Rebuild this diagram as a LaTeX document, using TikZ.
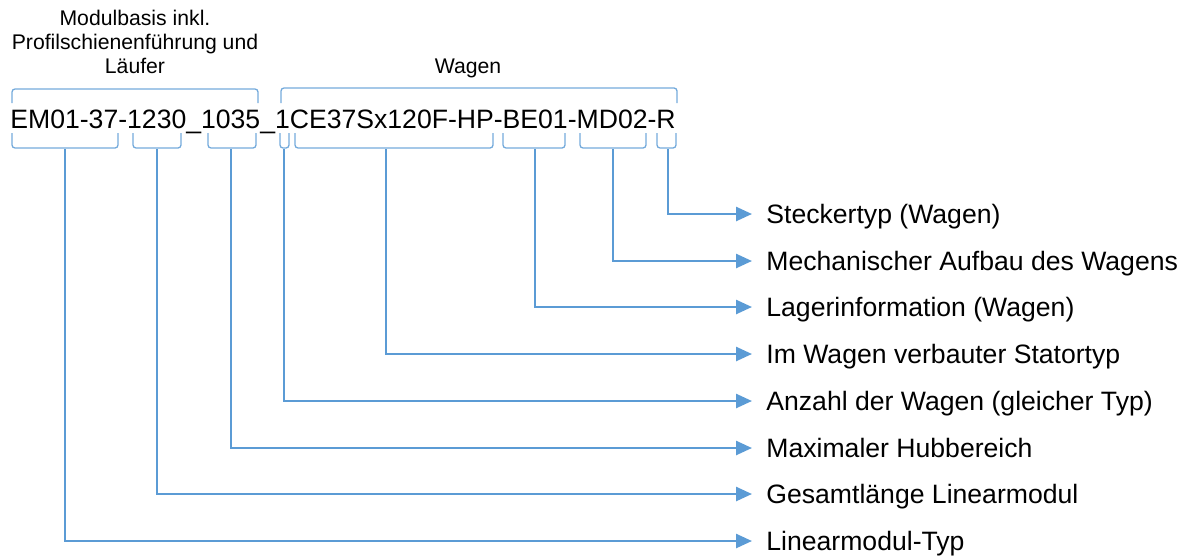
\documentclass[tikz,border=0pt]{standalone}
\usepackage{fontspec}
\setmainfont{Liberation Sans}
\usepackage{xcolor}
\usetikzlibrary{arrows.meta}
\definecolor{officeblue}{HTML}{5B9BD5}
\tikzstyle{label} = [anchor=west, inner xsep=7pt, inner ysep=0pt, text height=12pt, text depth=3pt, font=\fontsize{13.3}{16}\selectfont]
\tikzstyle{header} = [align=center, inner sep=0pt, font=\fontsize{10.6}{12}\selectfont]
\tikzstyle{bracket} = [officeblue!85, line width=0.65pt, rounded corners=1.5pt]
\tikzstyle{arrow} = [officeblue, line width=1.25pt, -{Triangle[length=8pt,width=7pt]}]

\begin{document}
\begin{tikzpicture}[x=0.5pt, y=-0.5pt]
  \useasboundingbox (0,0) rectangle (1181,557);

  % Code
  \node (code) [anchor=base west, inner sep=0pt, font=\fontsize{13.3}{16}\selectfont] at (10,128) {EM01-37-1230\_1035\_1CE37Sx120F-HP-BE01-MD02-R};

  % Headers
  \node (modul) [header, anchor=base] at (135,73) {Modulbasis inkl.\\Profilschienenführung und\\Läufer};
  \node (wagen) [header, anchor=base] at (468,73) {Wagen};

  % Upper brackets
  \draw [bracket] (12,103) -- (12,89) -- (258,89) -- (258,103);
  \draw [bracket] (281,103) -- (281,88) -- (677,88) -- (677,103);

  % Lower brackets
  \draw [bracket] (12,133) -- (12,148) -- (118,148) -- (118,133);
  \draw [bracket] (133,133) -- (133,148) -- (181,148) -- (181,133);
  \draw [bracket] (208,133) -- (208,148) -- (256,148) -- (256,133);
  \draw [bracket] (280,133) -- (280,148) -- (289,148) -- (289,133);
  \draw [bracket] (295,133) -- (295,148) -- (493,148) -- (493,133);
  \draw [bracket] (503,133) -- (503,148) -- (565,148) -- (565,133);
  \draw [bracket] (580,133) -- (580,148) -- (646,148) -- (646,133);
  \draw [bracket] (657,133) -- (657,148) -- (676,148) -- (676,133);

  % Bracket feet
  \coordinate (emtyp) at (65,149);
  \coordinate (laenge) at (157,149);
  \coordinate (hub) at (231,149);
  \coordinate (anzahl) at (284,149);
  \coordinate (stator) at (386,149);
  \coordinate (lager) at (535,149);
  \coordinate (mech) at (613,149);
  \coordinate (stecker) at (668,149);

  % Notes
  \node (notestecker) [label] at (752,214) {Steckertyp (Wagen)};
  \node (notemech) [label] at (752,261) {Mechanischer Aufbau des Wagens};
  \node (notelager) [label] at (752,307) {Lagerinformation (Wagen)};
  \node (notestator) [label] at (752,354) {Im Wagen verbauter Statortyp};
  \node (noteanzahl) [label] at (752,401) {Anzahl der Wagen (gleicher Typ)};
  \node (notehub) [label] at (752,448) {Maximaler Hubbereich};
  \node (notelaenge) [label] at (752,494) {Gesamtlänge Linearmodul};
  \node (noteemtyp) [label] at (752,541) {Linearmodul-Typ};

  % Arrows
  \draw [arrow] (stecker) |- (notestecker.west);
  \draw [arrow] (mech) |- (notemech.west);
  \draw [arrow] (lager) |- (notelager.west);
  \draw [arrow] (stator) |- (notestator.west);
  \draw [arrow] (anzahl) |- (noteanzahl.west);
  \draw [arrow] (hub) |- (notehub.west);
  \draw [arrow] (laenge) |- (notelaenge.west);
  \draw [arrow] (emtyp) |- (noteemtyp.west);

\end{tikzpicture}
\end{document}
